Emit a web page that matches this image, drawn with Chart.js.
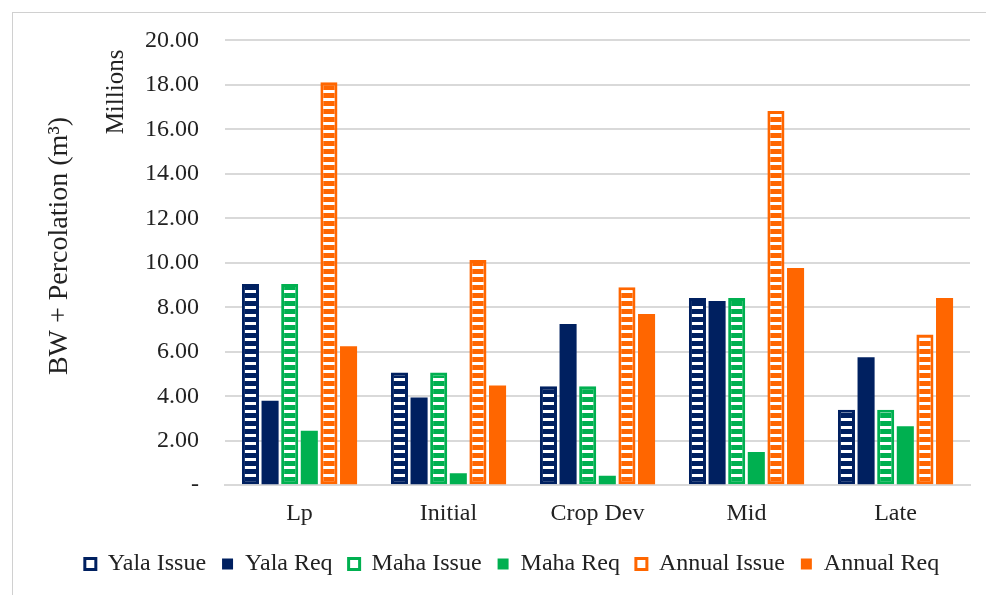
<!DOCTYPE html>
<html>
<head>
<meta charset="utf-8">
<script src="https://cdn.jsdelivr.net/npm/chart.js@4.4.1/dist/chart.umd.min.js"></script>
<style>
  html, body { margin: 0; padding: 0; background: #fff; }
  #wrap { position: relative; width: 986px; height: 595px; }
</style>
</head>
<body>
<div id="wrap"><canvas id="bw-chart" width="986" height="595"></canvas></div>
<script>
// ── data (values in millions of m3) ──
const stages = ['Lp', 'Initial', 'Crop Dev', 'Mid', 'Late'];
const yalaIssue   = [9.05, 5.07, 4.45, 8.42, 3.39];
const yalaReq     = [3.80, 3.94, 7.25, 8.28, 5.75];
const mahaIssue   = [9.05, 5.07, 4.45, 8.42, 3.39];
const mahaReq     = [2.45, 0.54, 0.42, 1.49, 2.65];
const annualIssue = [18.12, 10.13, 8.90, 16.82, 6.78];
const annualReq   = [6.25, 4.48, 7.70, 9.77, 8.42];
const yTicks = [0, 2, 4, 6, 8, 10, 12, 14, 16, 18, 20];

const NAVY = '#002060';
const GREEN = '#00b050';
const ORANGE = '#ff6600';
const GRID = '#d9d9d9';
const INK = '#222';
const FONT = '"Liberation Serif", "Times New Roman", serif';

// horizontal white dashes inside the "Issue" bars
function stripePattern(color) {
    const c = document.createElement('canvas');
    c.width = 8; c.height = 8;
    const g = c.getContext('2d');
    g.fillStyle = color;
    g.fillRect(0, 0, 8, 8);
    g.fillStyle = '#ffffff';
    g.fillRect(0, 2, 8, 3);
    return g.createPattern(c, 'repeat');
}

function issueSet(label, data, color) {
    return {
        label, data,
        backgroundColor: stripePattern(color),
        borderColor: color,
        borderWidth: 3,
        borderSkipped: false,
        legendFill: '#ffffff'
    };
}
function reqSet(label, data, color) {
    return {
        label, data,
        backgroundColor: color,
        borderColor: color,
        borderWidth: 0,
        legendFill: color
    };
}

// frame, rotated axis titles, legend nudged right like the original
const sideTitles = {
    id: 'sideTitles',
    afterLayout(chart) {
        chart.legend.left += 27;
        chart.legend.right += 27;
    },
    beforeDraw(chart) {
        const ctx = chart.ctx;
        ctx.save();
        ctx.strokeStyle = '#d0d0d0';
        ctx.lineWidth = 1;
        ctx.strokeRect(12.5, 12.5, 1000, 700);
        ctx.restore();
    },
    afterDraw(chart) {
        const ctx = chart.ctx;
        ctx.save();
        ctx.fillStyle = INK;
        ctx.textAlign = 'center';
        ctx.textBaseline = 'middle';
        ctx.font = '28px ' + FONT;
        ctx.translate(60, 246);
        ctx.rotate(-Math.PI / 2);
        ctx.fillText('BW + Percolation (m\u00B3)', 0, 0);
        ctx.restore();

        ctx.save();
        ctx.fillStyle = INK;
        ctx.textAlign = 'center';
        ctx.textBaseline = 'middle';
        ctx.font = '25px ' + FONT;
        ctx.translate(116, 92);
        ctx.rotate(-Math.PI / 2);
        ctx.fillText('Millions', 0, 0);
        ctx.restore();
    }
};

const ctx = document.getElementById('bw-chart').getContext('2d');
new Chart(ctx, {
    type: 'bar',
    data: {
        labels: stages,
        datasets: [
            issueSet('Yala Issue', yalaIssue, NAVY),
            reqSet('Yala Req', yalaReq, NAVY),
            issueSet('Maha Issue', mahaIssue, GREEN),
            reqSet('Maha Req', mahaReq, GREEN),
            issueSet('Annual Issue', annualIssue, ORANGE),
            reqSet('Annual Req', annualReq, ORANGE)
        ]
    },
    options: {
        responsive: false,
        animation: false,
        devicePixelRatio: 1,
        layout: { padding: { left: 0, right: 16, top: 38, bottom: 9 } },
        datasets: { bar: { categoryPercentage: 0.79, barPercentage: 0.87 } },
        plugins: {
            tooltip: { enabled: false },
            legend: {
                position: 'bottom',
                labels: {
                    color: INK,
                    font: { family: FONT, size: 24 },
                    boxWidth: 11,
                    boxHeight: 11,
                    padding: 16,
                    generateLabels(chart) {
                        return chart.data.datasets.map((ds, i) => ({
                            text: ds.label,
                            fillStyle: ds.legendFill,
                            strokeStyle: ds.borderColor,
                            lineWidth: ds.borderWidth ? 3 : 0,
                            fontColor: INK,
                            hidden: false,
                            datasetIndex: i
                        }));
                    }
                }
            }
        },
        scales: {
            x: {
                afterFit: scale => { scale.height -= 6; },
                grid: { display: false, drawTicks: false },
                border: { display: true, color: GRID, width: 2 },
                ticks: { color: INK, font: { family: FONT, size: 24 }, padding: 14 }
            },
            y: {
                min: 0,
                max: 20,
                afterFit: scale => { scale.width = 225; },
                afterBuildTicks: scale => { scale.ticks = yTicks.map(v => ({ value: v })); },
                grid: { color: GRID, lineWidth: 2, drawTicks: false },
                border: { display: false },
                ticks: {
                    color: INK,
                    font: { family: FONT, size: 24 },
                    padding: 26,
                    callback: v => v === 0 ? '-' : v.toFixed(2)
                }
            }
        }
    },
    plugins: [sideTitles]
});
</script>
</body>
</html>
